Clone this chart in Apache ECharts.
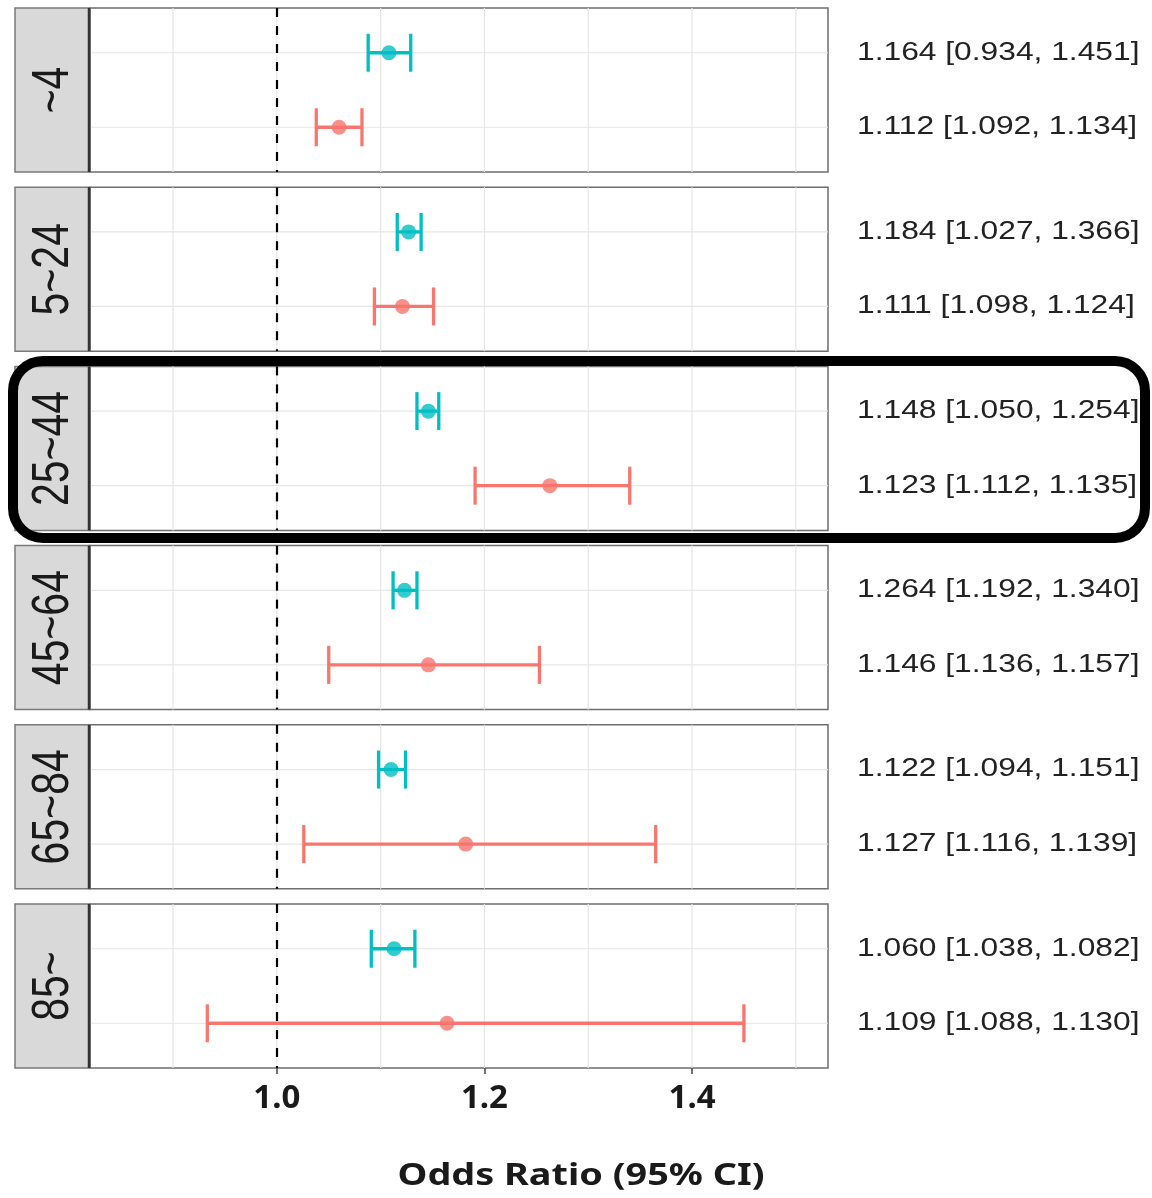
<!DOCTYPE html>
<html>
<head>
<meta charset="utf-8">
<script src="https://cdn.jsdelivr.net/npm/echarts@6/dist/echarts.min.js"></script>
<style>
html,body{margin:0;padding:0;background:#fff;}
#chart{width:1152px;height:1198px;}
</style>
</head>
<body>
<div id="chart"></div>
<script>
// ---- data ----
const groups   = ['~4', '5~24', '25~44', '45~64', '65~84', '85~'];
const tealEst  = [1.108, 1.127, 1.146, 1.123, 1.110, 1.113];
const tealLo   = [1.088, 1.116, 1.135, 1.112, 1.098, 1.091];
const tealHi   = [1.129, 1.139, 1.156, 1.135, 1.124, 1.133];
const redEst   = [1.060, 1.121, 1.263, 1.146, 1.182, 1.164];
const redLo    = [1.038, 1.094, 1.191, 1.050, 1.026, 0.933];
const redHi    = [1.082, 1.151, 1.340, 1.253, 1.365, 1.450];
const tealText = ['1.164 [0.934, 1.451]', '1.184 [1.027, 1.366]', '1.148 [1.050, 1.254]',
                  '1.264 [1.192, 1.340]', '1.122 [1.094, 1.151]', '1.060 [1.038, 1.082]'];
const redText  = ['1.112 [1.092, 1.134]', '1.111 [1.098, 1.124]', '1.123 [1.112, 1.135]',
                  '1.146 [1.136, 1.157]', '1.127 [1.116, 1.139]', '1.109 [1.088, 1.130]'];
const xTicks   = [1.0, 1.2, 1.4];
const xGrid    = [0.9, 1.0, 1.1, 1.2, 1.3, 1.4, 1.5];
const rowPos   = [1, 2];
const refValue = 1.0;
const xTitle   = 'Odds Ratio (95% CI)';

// ---- layout / style ----
const TEAL = '#00BFC4', RED = '#F8766D';
const X_MIN = 0.82, X_MAX = 1.531;
const PLOT_LEFT = 90, PLOT_W = 738, TOP0 = 8, STEP = 179.2, PANEL_H = 164;
const STRIP_X = 15;

const chart = echarts.init(document.getElementById('chart'), null, {renderer: 'canvas'});

const grids = [], xAxes = [], yAxes = [], series = [], graphics = [];

groups.forEach((g, i) => {
  const top = TOP0 + i * STEP;
  const last = i === groups.length - 1;
  grids.push({left: PLOT_LEFT, width: PLOT_W, top: top, height: PANEL_H,
              show: true, borderColor: '#6e6e6e', borderWidth: 1.5, backgroundColor: '#fff'});
  xAxes.push({
    type: 'value', gridIndex: i, min: X_MIN, max: X_MAX,
    axisLine: {show: false},
    splitLine: {show: false},
    axisTick: {show: last, customValues: xTicks, length: 6, lineStyle: {color: '#444', width: 1.5}},
    axisLabel: {show: last, customValues: xTicks, margin: 14,
      formatter: v => v.toFixed(1),
      fontFamily: 'Noto Sans', fontWeight: 'bold', fontSize: 33, color: '#1a1a1a'}
  });
  yAxes.push({
    type: 'value', gridIndex: i, min: 0.4, max: 2.6, inverse: true,
    axisLine: {show: false}, axisTick: {show: false}, axisLabel: {show: false}, splitLine: {show: false}
  });

  // background grid lines (vertical at xGrid, horizontal at rows)
  const gl = xGrid.map(v => [0, v]).concat(rowPos.map(r => [1, r]));
  series.push({
    type: 'custom', xAxisIndex: i, yAxisIndex: i, z: 1, silent: true,
    data: gl,
    encode: {x: -1, y: -1},
    renderItem: (params, api) => {
      const kind = api.value(0), v = api.value(1);
      const cs = params.coordSys;
      let a, b;
      if (kind === 0) {
        const px = api.coord([v, 1])[0];
        a = [px, cs.y]; b = [px, cs.y + cs.height];
      } else {
        const py = api.coord([X_MIN, v])[1];
        a = [cs.x, py]; b = [cs.x + cs.width, py];
      }
      return {type: 'line', shape: {x1: a[0], y1: a[1], x2: b[0], y2: b[1]},
              style: {stroke: '#e6e6e6', lineWidth: 1.2}};
    }
  });

  // error bars + right-hand labels
  const eb = [
    {value: [tealLo[i], tealHi[i], rowPos[0]], itemStyle: {color: TEAL}, label: tealText[i]},
    {value: [redLo[i], redHi[i], rowPos[1]], itemStyle: {color: RED}, label: redText[i]}
  ];
  series.push({
    type: 'custom', xAxisIndex: i, yAxisIndex: i, z: 3, silent: true,
    data: eb,
    encode: {x: [0, 1], y: 2},
    renderItem: (params, api) => {
      const lo = api.coord([api.value(0), api.value(2)]);
      const hi = api.coord([api.value(1), api.value(2)]);
      const c = api.visual('color');
      const h = 19;
      const st = {stroke: c, lineWidth: 3.3};
      const cs = params.coordSys;
      const txt = eb[params.dataIndex].label;
      return {type: 'group', children: [
        {type: 'line', shape: {x1: lo[0], y1: lo[1], x2: hi[0], y2: hi[1]}, style: st},
        {type: 'line', shape: {x1: lo[0], y1: lo[1] - h, x2: lo[0], y2: lo[1] + h}, style: st},
        {type: 'line', shape: {x1: hi[0], y1: hi[1] - h, x2: hi[0], y2: hi[1] + h}, style: st},
        {type: 'text', x: cs.x + cs.width + 29, y: lo[1], scaleX: 1.27,
         style: {text: txt, x: 0, y: 0, fill: '#222', fontSize: 25,
                 fontFamily: 'Liberation Sans', align: 'left', verticalAlign: 'middle'}}
      ]};
    }
  });

  // point estimates + reference line
  series.push({
    type: 'scatter', xAxisIndex: i, yAxisIndex: i, z: 4, silent: true,
    symbolSize: 15,
    data: [
      {value: [tealEst[i], rowPos[0]], itemStyle: {color: TEAL}},
      {value: [redEst[i], rowPos[1]], itemStyle: {color: RED}}
    ],
    markLine: {
      silent: true, symbol: 'none', z: 2, animation: false,
      label: {show: false},
      lineStyle: {color: '#000', width: 2.2, type: [9, 9]},
      emphasis: {disabled: true},
      data: [{xAxis: refValue}]
    }
  });

  // strip
  graphics.push({
    type: 'rect', z: 10,
    shape: {x: STRIP_X, y: top, width: PLOT_LEFT - STRIP_X, height: PANEL_H},
    style: {fill: '#d9d9d9', stroke: '#7a7a7a', lineWidth: 1.5}
  });
  graphics.push({
    type: 'line', z: 11,
    shape: {x1: PLOT_LEFT - 1, y1: top, x2: PLOT_LEFT - 1, y2: top + PANEL_H},
    style: {stroke: '#333', lineWidth: 2.5}
  });
  graphics.push({
    type: 'text', z: 12,
    x: (STRIP_X + PLOT_LEFT) / 2 + 1, y: top + PANEL_H / 2,
    rotation: Math.PI / 2, scaleY: 1.27,
    style: {text: g, fontSize: 41, fontFamily: 'Liberation Sans', fill: '#1a1a1a',
            align: 'center', verticalAlign: 'middle'}
  });
});

// x-axis title
graphics.push({
  type: 'text', z: 12, x: 581, y: 1176, scaleX: 1.22,
  style: {text: xTitle, fontSize: 31, fontWeight: 'bold', fontFamily: 'Noto Sans',
          fill: '#1a1a1a', align: 'center', verticalAlign: 'middle'}
});

// highlight box around the 25~44 panel
graphics.push({
  type: 'rect', z: 20,
  shape: {x: 13, y: 361, width: 1132, height: 177, r: 30},
  style: {fill: 'none', stroke: '#000', lineWidth: 10}
});

chart.setOption({
  animation: false,
  backgroundColor: '#fff',
  grid: grids, xAxis: xAxes, yAxis: yAxes, series: series, graphic: graphics
});
</script>
</body>
</html>
